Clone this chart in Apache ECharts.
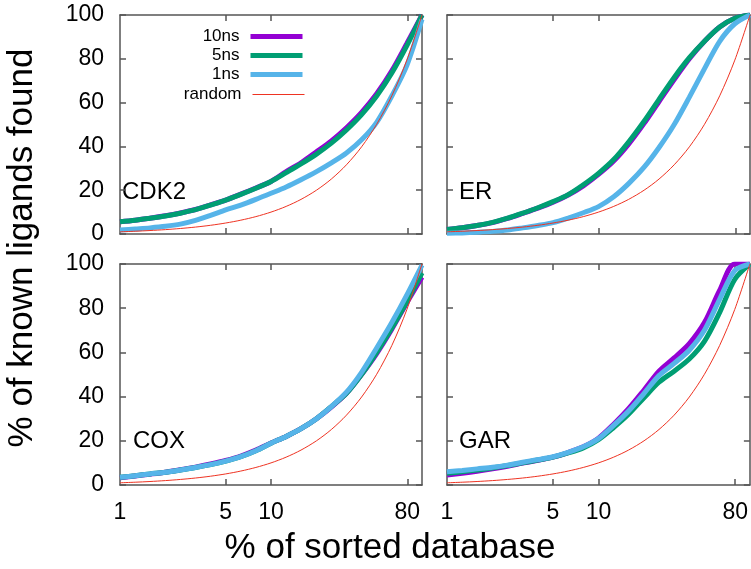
<!DOCTYPE html>
<html><head><meta charset="utf-8">
<script src="https://cdn.jsdelivr.net/npm/echarts@6/dist/echarts.min.js"></script>
<style>html,body{margin:0;padding:0;background:#fff}#c{width:751px;height:569px}</style>
</head><body><div id="c"></div><script>
// x positions (% of sorted database), evenly spaced on the log axis
const xPts = [1, 1.26, 1.58, 2, 2.51, 3.16, 3.98, 5.01, 6.31, 7.94, 10, 12.6, 15.8, 20, 25.1, 31.6, 39.8, 50.1, 63.1, 79.4, 100];
const seriesNames = ['10ns', '5ns', '1ns', 'random'];
const panelNames = ['CDK2', 'ER', 'COX', 'GAR'];
const xTickLabels = [1, 5, 10, 80];
const xTickMarks = [5, 10, 80];

// CDK2
const cdk2_10ns = [5.6, 6.3, 7.2, 8.3, 9.6, 11.2, 13.3, 15.5, 18.2, 21, 24, 28.5, 32.5, 37.5, 42.5, 48.5, 55.5, 64, 74.5, 87, 100];
const cdk2_5ns  = [5.6, 6.3, 7.2, 8.2, 9.5, 11.1, 13.2, 15.5, 18.1, 20.9, 24, 28, 32, 36.5, 41.5, 47.5, 54.5, 63, 73.5, 86, 100];
const cdk2_1ns  = [1.8, 2.3, 2.8, 3.5, 4.5, 6.2, 8.5, 11, 13.2, 15.8, 18.6, 21.5, 24.8, 28.5, 32.5, 37, 43, 51, 63, 77, 98];
// ER
const er_10ns = [2.1, 2.9, 3.9, 5.2, 7.1, 9.4, 11.8, 14.5, 17.8, 22, 27.2, 33.3, 41, 50.5, 60.5, 70.5, 80, 88, 94.5, 98.5, 100];
const er_5ns  = [2.1, 2.9, 3.9, 5.3, 7.2, 9.5, 12, 14.8, 18, 22.5, 27.7, 34, 42, 51.5, 61.5, 71.5, 80.5, 88, 94.5, 98.5, 100];
const er_1ns  = [0.3, 0.5, 0.8, 1.2, 1.8, 2.8, 3.9, 5.2, 7.3, 9.7, 12.5, 17, 23, 30.5, 39.5, 50, 62.5, 75.5, 88, 96, 100];
// COX
const cox_10ns = [3.3, 4.1, 4.9, 5.8, 6.9, 8.1, 9.5, 11.1, 13.1, 15.8, 19, 22, 25.5, 30, 35.3, 41.5, 50, 59.5, 70.5, 82.5, 94];
const cox_5ns  = [3.5, 4.2, 5, 5.8, 6.8, 7.9, 9.2, 10.8, 12.8, 15.5, 18.9, 22, 25.5, 30, 35.5, 41.5, 50, 60, 71, 83, 96];
const cox_1ns  = [3.5, 4.2, 5, 5.8, 6.8, 7.9, 9.2, 10.8, 12.8, 15.5, 18.9, 22, 25.5, 30, 35.5, 42, 51, 62, 73.5, 86, 99.5];
// GAR
const gar_10ns = [4.5, 5.3, 6.2, 7.3, 8.5, 9.9, 11.2, 12.6, 14.7, 17.3, 21.2, 27.5, 34.5, 43, 51.5, 57.5, 64, 73.5, 88, 100, 100];
const gar_5ns  = [5.3, 6, 6.8, 7.7, 8.8, 10, 11.3, 12.6, 14.5, 16.8, 20.5, 26, 32, 39.5, 46.5, 51.5, 57, 65, 78, 93, 100];
const gar_1ns  = [6, 6.6, 7.3, 8, 9, 10.3, 11.5, 12.8, 14.8, 17.3, 21, 27, 33.5, 41.5, 49.5, 55, 61, 70, 84, 97, 100];
// random selection (same in every panel)
const randomY = [1, 1.26, 1.58, 2, 2.51, 3.16, 3.98, 5.01, 6.31, 7.94, 10, 12.6, 15.8, 20, 25.1, 31.6, 39.8, 50.1, 63.1, 79.4, 100];

const panelData = [
  [cdk2_10ns, cdk2_5ns, cdk2_1ns, randomY],
  [er_10ns, er_5ns, er_1ns, randomY],
  [cox_10ns, cox_5ns, cox_1ns, randomY],
  [gar_10ns, gar_5ns, gar_1ns, randomY]
];

const colors = ['#9400D3', '#009E73', '#56B4E9', '#EE3322'];
const widths = [5, 5, 5, 1];
const FONT = '"Liberation Sans", Arial, Helvetica, sans-serif';
const AX = '#555';

const grids = [
  {left: 120, top: 15, width: 302, height: 219},
  {left: 447, top: 15, width: 303, height: 219},
  {left: 120, top: 264, width: 302, height: 221},
  {left: 447, top: 264, width: 303, height: 221}
];

const xAxis = [], yAxis = [], series = [];
grids.forEach((g, gi) => {
  const bottomRow = gi >= 2, leftCol = gi % 2 === 0;
  ['bottom', 'top'].forEach(pos => {
    xAxis.push({
      type: 'log', logBase: 10, gridIndex: gi, min: 1, max: 100, position: pos,
      axisLine: {show: true, onZero: false, lineStyle: {color: AX, width: 1.5}},
      axisTick: {show: true, inside: true, length: 6, customValues: xTickMarks, lineStyle: {color: AX, width: 1.5}},
      axisLabel: {show: pos === 'bottom' && bottomRow, customValues: xTickLabels, fontSize: 23, color: '#000', margin: 16, fontFamily: FONT},
      splitLine: {show: false}, minorTick: {show: false}
    });
  });
  ['left', 'right'].forEach(pos => {
    yAxis.push({
      type: 'value', gridIndex: gi, min: 0, max: 100, interval: 20, position: pos,
      axisLine: {show: true, lineStyle: {color: AX, width: 1.5}},
      axisTick: {show: true, inside: true, length: 6, lineStyle: {color: AX, width: 1.5}},
      axisLabel: {show: pos === 'left' && leftCol, fontSize: 23, color: '#000', margin: 16, fontFamily: FONT},
      splitLine: {show: false}
    });
  });
  panelData[gi].forEach((arr, si) => {
    series.push({
      name: seriesNames[si], type: 'line', xAxisIndex: gi * 2, yAxisIndex: gi * 2,
      data: xPts.map((x, i) => [x, arr[i]]),
      symbol: 'none', smooth: 0.3,
      lineStyle: {color: colors[si], width: widths[si]},
      itemStyle: {color: colors[si]},
      z: 2 + si, silent: true, animation: false
    });
  });
});

const legendTops = [28, 47, 66, 86];
const legend = seriesNames.map((n, i) => ({
  data: [n], right: 446, top: legendTops[i], orient: 'vertical', align: 'right',
  itemWidth: 52, itemHeight: 14, padding: 0,
  textStyle: {fontSize: 17, color: '#000', fontFamily: FONT, padding: [0, 6, 0, 0]},
  lineStyle: {width: widths[i]}, itemStyle: {opacity: 0}, selectedMode: false
}));

const labelPos = [[122, 192], [459, 192], [133, 441], [459, 441]];
const graphic = panelNames.map((t, i) => ({
  type: 'text', x: labelPos[i][0], y: labelPos[i][1],
  style: {text: t, font: '24px ' + FONT, fill: '#000', textVerticalAlign: 'middle'}
}));
graphic.push({
  type: 'text', x: 390, y: 548,
  style: {text: '% of sorted database', font: '35px ' + FONT, fill: '#000', textAlign: 'center', textVerticalAlign: 'middle'}
});
graphic.push({
  type: 'text', x: 22, y: 248, rotation: Math.PI / 2,
  style: {text: '% of known ligands found', font: '35px ' + FONT, fill: '#000', textAlign: 'center', textVerticalAlign: 'middle'}
});

const chart = echarts.init(document.getElementById('c'), null, {renderer: 'canvas'});
chart.setOption({
  animation: false, backgroundColor: '#fff',
  grid: grids, xAxis, yAxis, series, legend, graphic
});
</script></body></html>
